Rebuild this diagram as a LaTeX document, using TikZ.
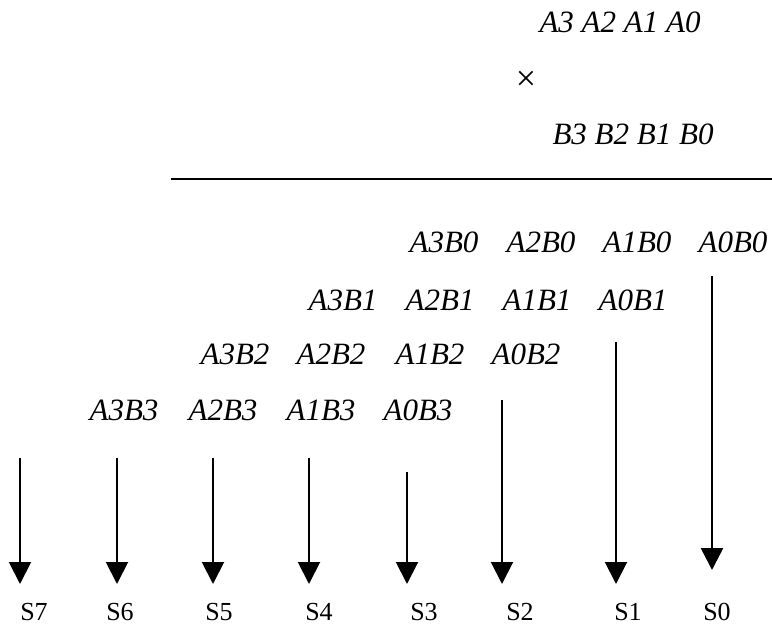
\documentclass[tikz,border=0pt]{standalone}
\usepackage{fontspec}
\setmainfont{Liberation Serif}
\usetikzlibrary{arrows.meta}

\tikzset{
  prod/.style={font=\fontsize{31}{31}\selectfont\itshape, inner sep=0pt},
  sumlabel/.style={font=\fontsize{26}{26}\selectfont, inner sep=0pt},
  sumarrow/.style={line width=2pt, -{Triangle[width=22pt,length=22pt]}}
}

\begin{document}
\begin{tikzpicture}[x=1pt, y=-1pt]
\useasboundingbox (0,0) rectangle (772,628);

% operands
\node[prod] (opa) at (620,22) {A3 A2 A1 A0};
\node[font=\fontsize{36}{36}\selectfont, inner sep=0pt] (times) at (526,81) {×};
\node[prod] (opb) at (633,134) {B3 B2 B1 B0};
\coordinate (rulel) at (171,179);
\coordinate (ruler) at (772,179);
\draw[line width=2.5pt] (rulel) -- (ruler);

% partial products, one row per bit of B
\begin{scope}
  \node[prod] (a3b0) at (444,242) {A3B0};
  \node[prod] (a2b0) at (541,242) {A2B0};
  \node[prod] (a1b0) at (637,242) {A1B0};
  \node[prod] (a0b0) at (733,242) {A0B0};
\end{scope}

\begin{scope}
  \node[prod] (a3b1) at (343,300) {A3B1};
  \node[prod] (a2b1) at (440,300) {A2B1};
  \node[prod] (a1b1) at (537,300) {A1B1};
  \node[prod] (a0b1) at (633,300) {A0B1};
\end{scope}

\begin{scope}
  \node[prod] (a3b2) at (235,354) {A3B2};
  \node[prod] (a2b2) at (331,354) {A2B2};
  \node[prod] (a1b2) at (430,354) {A1B2};
  \node[prod] (a0b2) at (526,354) {A0B2};
\end{scope}

\begin{scope}
  \node[prod] (a3b3) at (124,410) {A3B3};
  \node[prod] (a2b3) at (223,410) {A2B3};
  \node[prod] (a1b3) at (321,410) {A1B3};
  \node[prod] (a0b3) at (418,410) {A0B3};
\end{scope}

% sum bits
\node[sumlabel] (s7) at (34,612) {S7};
\node[sumlabel] (s6) at (120,612) {S6};
\node[sumlabel] (s5) at (219,612) {S5};
\node[sumlabel] (s4) at (319,612) {S4};
\node[sumlabel] (s3) at (424,612) {S3};
\node[sumlabel] (s2) at (520,612) {S2};
\node[sumlabel] (s1) at (628,612) {S1};
\node[sumlabel] (s0) at (717,612) {S0};

\coordinate (t7) at (20,458);  \coordinate (e7) at (20,584);
\coordinate (t6) at (117,458); \coordinate (e6) at (117,584);
\coordinate (t5) at (213,458); \coordinate (e5) at (213,584);
\coordinate (t4) at (309,458); \coordinate (e4) at (309,584);
\coordinate (t3) at (407,472); \coordinate (e3) at (407,584);
\coordinate (t2) at (502,400); \coordinate (e2) at (502,584);
\coordinate (t1) at (616,342); \coordinate (e1) at (616,584);
\coordinate (t0) at (712,276); \coordinate (e0) at (712,570);

\draw[sumarrow] (t7) -- (e7);
\draw[sumarrow] (t6) -- (e6);
\draw[sumarrow] (t5) -- (e5);
\draw[sumarrow] (t4) -- (e4);
\draw[sumarrow] (t3) -- (e3);
\draw[sumarrow] (t2) -- (e2);
\draw[sumarrow] (t1) -- (e1);
\draw[sumarrow, line width=2.6pt] (t0) -- (e0);

\end{tikzpicture}
\end{document}
